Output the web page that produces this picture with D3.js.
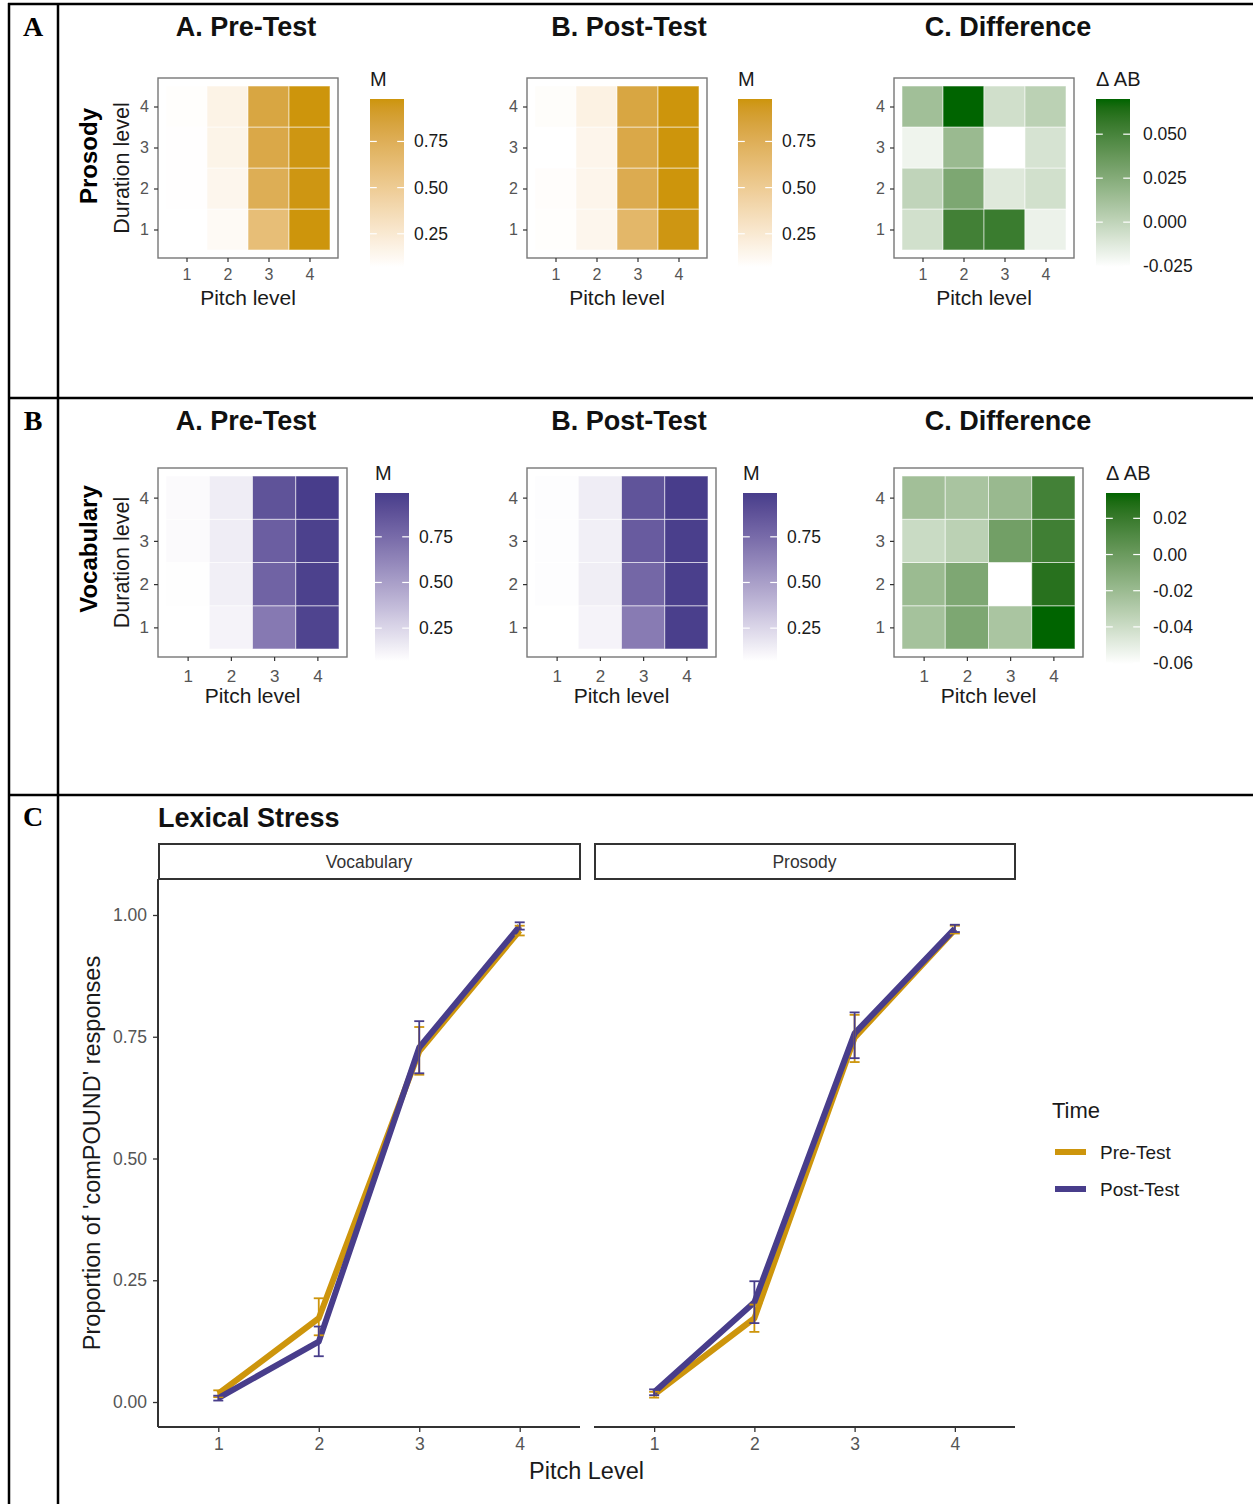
<!DOCTYPE html>
<html><head><meta charset="utf-8">
<script src="https://cdn.jsdelivr.net/npm/d3@7"></script>
<style>
body{margin:0;background:#fff}
svg{display:block}
text{font-family:"Liberation Sans",Arial,Helvetica,sans-serif}
</style>
</head><body>
<svg id="chart" width="1253" height="1504"></svg>
<script>
// ---------------- DATA ----------------
const pitchLevels = [1, 2, 3, 4];
const durationLevels = [1, 2, 3, 4];
// heatmap matrices: rows = duration level 1..4, columns = pitch level 1..4
const prosodyPre = [
  [0.070, 0.110, 0.620, 0.980],
  [0.075, 0.140, 0.760, 0.970],
  [0.075, 0.160, 0.810, 0.970],
  [0.080, 0.170, 0.830, 0.980]];
const prosodyPost = [
  [0.080, 0.140, 0.680, 0.970],
  [0.085, 0.150, 0.780, 0.980],
  [0.070, 0.150, 0.810, 0.980],
  [0.090, 0.180, 0.830, 0.980]];
const prosodyDiff = [
  [-0.007, 0.052, 0.055, -0.018],
  [0.000, 0.028, -0.0126, -0.007],
  [-0.019, 0.016, -0.0255, -0.009],
  [0.013, 0.070, -0.0065, 0.002]];
const vocabPre = [
  [0.070, 0.120, 0.680, 0.955],
  [0.075, 0.140, 0.790, 0.970],
  [0.090, 0.150, 0.815, 0.970],
  [0.090, 0.150, 0.875, 0.990]];
const vocabPost = [
  [0.070, 0.120, 0.670, 0.980],
  [0.080, 0.145, 0.770, 0.980],
  [0.080, 0.140, 0.830, 0.980],
  [0.080, 0.150, 0.870, 0.990]];
const vocabDiff = [
  [-0.024, -0.0076, -0.026, 0.034],
  [-0.020, -0.008, -0.0605, 0.0255],
  [-0.039, -0.033, -0.003, 0.017],
  [-0.0227, -0.0255, -0.019, 0.016]];

const mTicks = [0.25, 0.50, 0.75];
const prosodyDiffTicks = [-0.025, 0.000, 0.025, 0.050];
const vocabDiffTicks = [-0.06, -0.04, -0.02, 0.00, 0.02];

const panelTitles = ["A. Pre-Test", "B. Post-Test", "C. Difference"];
const rowLetters = ["A", "B", "C"];
const rowNames = ["Prosody", "Vocabulary"];

// Lexical stress line chart
const lexPitch = [1, 2, 3, 4];
const lexFacets = ["Vocabulary", "Prosody"];
const lexTimes = ["Pre-Test", "Post-Test"];
const lexYTicks = [0.00, 0.25, 0.50, 0.75, 1.00];
const vocabPreMean  = [0.017, 0.172, 0.720, 0.968];
const vocabPreLo    = [0.010, 0.137, 0.672, 0.958];
const vocabPreHi    = [0.024, 0.213, 0.770, 0.978];
const vocabPostMean = [0.008, 0.124, 0.728, 0.977];
const vocabPostLo   = [0.003, 0.094, 0.675, 0.970];
const vocabPostHi   = [0.013, 0.155, 0.782, 0.985];
const prosPreMean   = [0.015, 0.172, 0.748, 0.970];
const prosPreLo     = [0.009, 0.144, 0.698, 0.962];
const prosPreHi     = [0.021, 0.200, 0.795, 0.978];
const prosPostMean  = [0.020, 0.205, 0.757, 0.972];
const prosPostLo    = [0.014, 0.162, 0.706, 0.965];
const prosPostHi    = [0.026, 0.248, 0.800, 0.980];

// ---------------- STYLE ----------------
const GOLD = "#CD950C", SLATE = "#483D8B", GREEN = "#006400";
const locale = d3.formatLocale({decimal: ".", thousands: ",", grouping: [3], currency: ["$", ""], minus: "-"});
const svg = d3.select("#chart");

// ---------------- TABLE FRAME ----------------
const frame = svg.append("g").attr("stroke", "#000").attr("stroke-width", 2.5);
frame.append("line").attr("x1", 9).attr("x2", 9).attr("y1", 3).attr("y2", 1504);
frame.append("line").attr("x1", 58).attr("x2", 58).attr("y1", 3).attr("y2", 1504);
[4, 398, 795].forEach(y => frame.append("line").attr("x1", 8).attr("x2", 1253).attr("y1", y).attr("y2", y));
[36, 430, 826].forEach((y, i) => svg.append("text").attr("x", 33).attr("y", y)
  .attr("text-anchor", "middle").style("font-family", "'Liberation Serif','DejaVu Serif',serif")
  .style("font-weight", "bold").style("font-size", "28px").text(rowLetters[i]));

// ---------------- HEATMAP ----------------
let gradId = 0;
function heatmap(o) {
  const g = svg.append("g");
  const flat = o.data.flat();
  const ext = d3.extent(flat);
  const color = d3.scaleLinear().domain(ext).range(["#ffffff", o.high]).interpolate(d3.interpolateLab);
  const xs = d3.scaleLinear().domain([0.5, 4.5]).range([o.x0 + o.inset, o.x0 + o.w - o.inset]);
  const ys = d3.scaleLinear().domain([0.5, 4.5]).range([o.y0 + o.h - o.inset, o.y0 + o.inset]);
  g.append("rect").attr("x", o.x0).attr("y", o.y0).attr("width", o.w).attr("height", o.h).attr("fill", "#fff");
  const cells = [];
  durationLevels.forEach((d, i) => pitchLevels.forEach((p, j) => cells.push({d, p, v: o.data[i][j]})));
  g.selectAll("rect.cell").data(cells).join("rect").attr("class", "cell")
    .attr("x", c => xs(c.p - 0.5)).attr("width", c => xs(c.p + 0.5) - xs(c.p - 0.5))
    .attr("y", c => ys(c.d + 0.5)).attr("height", c => ys(c.d - 0.5) - ys(c.d + 0.5))
    .attr("fill", c => color(c.v)).attr("stroke", "rgba(255,255,255,0.55)").attr("stroke-width", 1);
  g.append("rect").attr("x", o.x0).attr("y", o.y0).attr("width", o.w).attr("height", o.h)
    .attr("fill", "none").attr("stroke", "#777").attr("stroke-width", 1.4);
  const ax = g.append("g").attr("transform", `translate(0,${o.y0 + o.h})`)
    .call(d3.axisBottom(xs).tickValues(pitchLevels).tickSize(4).tickPadding(o.xpad).tickFormat(d3.format("d")));
  const ay = g.append("g").attr("transform", `translate(${o.x0},0)`)
    .call(d3.axisLeft(ys).tickValues(durationLevels).tickSize(4).tickPadding(5).tickFormat(d3.format("d")));
  [ax, ay].forEach(a => {
    a.select(".domain").remove();
    a.selectAll(".tick line").attr("stroke", "#333").attr("stroke-width", 1.2);
    a.selectAll(".tick text").attr("fill", "#555").style("font-size", o.tickFont + "px").style("font-family", "'Liberation Sans',Arial,sans-serif");
  });
  g.append("text").attr("x", o.x0 + o.w / 2).attr("y", o.xtitleY).attr("text-anchor", "middle")
    .attr("fill", "#1a1a1a").style("font-size", "21px").text("Pitch level");
  if (o.ytitle) {
    g.append("text").attr("transform", `translate(${o.x0 - 36},${o.y0 + o.h / 2}) rotate(-90)`)
      .attr("text-anchor", "middle").attr("dominant-baseline", "central")
      .attr("fill", "#1a1a1a").style("font-size", "21.5px").text("Duration level");
    g.append("text").attr("transform", `translate(${o.x0 - 70},${o.rowLabelY}) rotate(-90)`)
      .attr("text-anchor", "middle").attr("dominant-baseline", "central")
      .attr("fill", "#000").style("font-size", "24px").style("font-weight", "bold").text(o.ytitle);
  }
  g.append("text").attr("x", o.titleX).attr("y", o.titleY).attr("text-anchor", "middle")
    .style("font-size", "27px").style("font-weight", "bold").attr("fill", "#111").text(o.title);
  // colorbar
  const L = o.legend;
  const id = "grad" + (gradId++);
  const grad = svg.append("defs").append("linearGradient").attr("id", id)
    .attr("x1", 0).attr("y1", 1).attr("x2", 0).attr("y2", 0);
  d3.range(0, 1.0001, 0.05).forEach(t => grad.append("stop")
    .attr("offset", t).attr("stop-color", color(ext[0] + t * (ext[1] - ext[0]))));
  const cb = d3.scaleLinear().domain(ext).range([L.top + L.len, L.top]);
  g.append("rect").attr("x", L.x).attr("y", L.top).attr("width", L.w).attr("height", L.len).attr("fill", `url(#${id})`);
  const fmt = locale.format(L.fmt);
  L.ticks.forEach(t => {
    const yy = cb(t);
    g.append("line").attr("x1", L.x).attr("x2", L.x + L.w / 5).attr("y1", yy).attr("y2", yy).attr("stroke", "#fff").attr("stroke-width", 1.2);
    g.append("line").attr("x1", L.x + L.w * 4 / 5).attr("x2", L.x + L.w).attr("y1", yy).attr("y2", yy).attr("stroke", "#fff").attr("stroke-width", 1.2);
    g.append("text").attr("x", L.x + L.w + L.gap).attr("y", yy).attr("dominant-baseline", "central")
      .attr("fill", "#1a1a1a").style("font-size", "17.5px").text(fmt(t));
  });
  g.append("text").attr("x", L.x).attr("y", L.titleY).attr("fill", "#1a1a1a").style("font-size", "20px").text(L.title);
}

const rowA = {y0: 78, w: 180, h: 180, inset: 8, xpad: 7, tickFont: 16, xtitleY: 305, titleY: 36, rowLabelY: 156};
const rowB = {y0: 468, w: 189, h: 189, inset: 8, xpad: 9, tickFont: 17, xtitleY: 703, titleY: 430, rowLabelY: 549};
const titleXs = [246, 629, 1008];

heatmap(Object.assign({}, rowA, {x0: 158, data: prosodyPre, high: GOLD, title: panelTitles[0], titleX: titleXs[0], ytitle: rowNames[0],
  legend: {x: 370, w: 34, top: 99, len: 168, ticks: mTicks, fmt: ".2f", gap: 10, title: "M", titleY: 86}}));
heatmap(Object.assign({}, rowA, {x0: 527, data: prosodyPost, high: GOLD, title: panelTitles[1], titleX: titleXs[1],
  legend: {x: 738, w: 34, top: 99, len: 168, ticks: mTicks, fmt: ".2f", gap: 10, title: "M", titleY: 86}}));
heatmap(Object.assign({}, rowA, {x0: 894, data: prosodyDiff, high: GREEN, title: panelTitles[2], titleX: titleXs[2],
  legend: {x: 1096, w: 34, top: 99, len: 168, ticks: prosodyDiffTicks, fmt: ".3f", gap: 13, title: "\u0394 AB", titleY: 86}}));

heatmap(Object.assign({}, rowB, {x0: 158, data: vocabPre, high: SLATE, title: panelTitles[0], titleX: titleXs[0], ytitle: rowNames[1],
  legend: {x: 375, w: 34, top: 493, len: 168, ticks: mTicks, fmt: ".2f", gap: 10, title: "M", titleY: 480}}));
heatmap(Object.assign({}, rowB, {x0: 527, data: vocabPost, high: SLATE, title: panelTitles[1], titleX: titleXs[1],
  legend: {x: 743, w: 34, top: 493, len: 168, ticks: mTicks, fmt: ".2f", gap: 10, title: "M", titleY: 480}}));
heatmap(Object.assign({}, rowB, {x0: 894, data: vocabDiff, high: GREEN, title: panelTitles[2], titleX: titleXs[2],
  legend: {x: 1106, w: 34, top: 493, len: 171, ticks: vocabDiffTicks, fmt: ".2f", gap: 13, title: "\u0394 AB", titleY: 480}}));

// ---------------- LEXICAL STRESS ----------------
const lex = svg.append("g");
const yTop = 879, yBot = 1427;
const y = d3.scaleLinear().domain([-0.0513, 1.0739]).range([yBot, yTop]);
const facetX = [[158, 580], [594, 1015]];
const series = [
  [{mean: vocabPreMean, lo: vocabPreLo, hi: vocabPreHi, color: GOLD}, {mean: vocabPostMean, lo: vocabPostLo, hi: vocabPostHi, color: SLATE}],
  [{mean: prosPreMean, lo: prosPreLo, hi: prosPreHi, color: GOLD}, {mean: prosPostMean, lo: prosPostLo, hi: prosPostHi, color: SLATE}]];

lex.append("text").attr("x", 158).attr("y", 827).style("font-size", "27px").style("font-weight", "bold").attr("fill", "#111").text("Lexical Stress");

lexFacets.forEach((f, fi) => {
  const [a, b] = facetX[fi];
  const x = d3.scaleLinear().domain([0.4, 4.6]).range([a, b]);
  lex.append("rect").attr("x", a + 1).attr("y", 844).attr("width", b - a - 1).attr("height", 35)
    .attr("fill", "#fff").attr("stroke", "#333").attr("stroke-width", 2);
  lex.append("text").attr("x", (a + b) / 2).attr("y", 862).attr("text-anchor", "middle").attr("dominant-baseline", "central")
    .attr("fill", "#333").style("font-size", "17.5px").text(f);
  const ax = lex.append("g").attr("transform", `translate(0,${yBot})`)
    .call(d3.axisBottom(x).tickValues(lexPitch).tickSize(5).tickPadding(6).tickFormat(d3.format("d")));
  ax.select(".domain").attr("stroke", "#333").attr("stroke-width", 2).attr("d", `M${a},0H${b}`);
  ax.selectAll(".tick line").attr("stroke", "#333").attr("stroke-width", 1.3);
  ax.selectAll(".tick text").attr("fill", "#555").style("font-size", "17.5px").style("font-family", "'Liberation Sans',Arial,sans-serif");
  if (fi === 0) {
    const ay = lex.append("g").attr("transform", `translate(${a},0)`)
      .call(d3.axisLeft(y).tickValues(lexYTicks).tickSize(5).tickPadding(6).tickFormat(d3.format(".2f")));
    ay.select(".domain").attr("stroke", "#333").attr("stroke-width", 2).attr("d", `M0,${yTop}V${yBot}`);
    ay.selectAll(".tick line").attr("stroke", "#333").attr("stroke-width", 1.3);
    ay.selectAll(".tick text").attr("fill", "#555").style("font-size", "17.5px").style("font-family", "'Liberation Sans',Arial,sans-serif");
  }
  const line = d3.line().x((d, i) => x(lexPitch[i])).y(d => y(d));
  series[fi].forEach(s => {
    lex.append("path").attr("d", line(s.mean)).attr("fill", "none").attr("stroke", s.color)
      .attr("stroke-width", 6).attr("stroke-linejoin", "round").attr("stroke-linecap", "butt");
  });
  series[fi].forEach(s => {
    lexPitch.forEach((p, i) => {
      const cx = x(p), w = 5;
      const eb = lex.append("g").attr("stroke", s.color).attr("stroke-width", 1.8).attr("fill", "none");
      eb.append("line").attr("x1", cx).attr("x2", cx).attr("y1", y(s.lo[i])).attr("y2", y(s.hi[i]));
      eb.append("line").attr("x1", cx - w).attr("x2", cx + w).attr("y1", y(s.lo[i])).attr("y2", y(s.lo[i]));
      eb.append("line").attr("x1", cx - w).attr("x2", cx + w).attr("y1", y(s.hi[i])).attr("y2", y(s.hi[i]));
    });
  });
});

lex.append("text").attr("x", 586.5).attr("y", 1479).attr("text-anchor", "middle").attr("fill", "#1a1a1a")
  .style("font-size", "23.5px").text("Pitch Level");
lex.append("text").attr("transform", `translate(92,${(yTop + yBot) / 2}) rotate(-90)`).attr("text-anchor", "middle")
  .attr("dominant-baseline", "central").attr("fill", "#1a1a1a").style("font-size", "23.5px")
  .text("Proportion of 'comPOUND' responses");

lex.append("text").attr("x", 1052).attr("y", 1118).attr("fill", "#1a1a1a").style("font-size", "22px").text("Time");
lexTimes.forEach((t, i) => {
  const ly = 1152 + i * 37;
  lex.append("line").attr("x1", 1055).attr("x2", 1086).attr("y1", ly).attr("y2", ly)
    .attr("stroke", [GOLD, SLATE][i]).attr("stroke-width", 6);
  lex.append("text").attr("x", 1100).attr("y", ly).attr("dominant-baseline", "central")
    .attr("fill", "#1a1a1a").style("font-size", "19px").text(t);
});
</script>
</body></html>
